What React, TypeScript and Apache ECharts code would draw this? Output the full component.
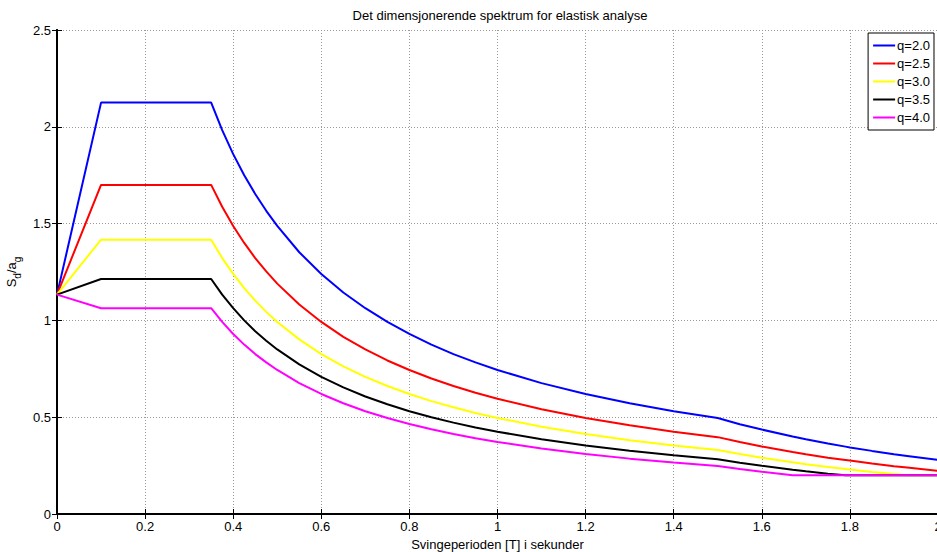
import React, { useEffect, useRef } from "react";
import * as echarts from "echarts";

const periods = [0, 0.1, 0.35, 0.375, 0.4, 0.425, 0.45, 0.475, 0.5, 0.55, 0.6, 0.65, 0.7, 0.75, 0.8, 0.85, 0.9, 0.95, 1.0, 1.1, 1.2, 1.3, 1.4, 1.5, 1.55, 1.6, 1.67, 1.7, 1.75, 1.79, 1.8, 1.85, 1.9, 1.93, 2.0];
const q20 = [1.133, 2.125, 2.125, 1.983, 1.859, 1.75, 1.653, 1.566, 1.488, 1.352, 1.24, 1.144, 1.063, 0.992, 0.93, 0.875, 0.826, 0.783, 0.744, 0.676, 0.62, 0.572, 0.531, 0.496, 0.464, 0.436, 0.4, 0.386, 0.364, 0.348, 0.344, 0.326, 0.309, 0.3, 0.279];
const q25 = [1.133, 1.7, 1.7, 1.587, 1.488, 1.4, 1.322, 1.253, 1.19, 1.082, 0.992, 0.915, 0.85, 0.793, 0.744, 0.7, 0.661, 0.626, 0.595, 0.541, 0.496, 0.458, 0.425, 0.397, 0.372, 0.349, 0.32, 0.309, 0.291, 0.279, 0.276, 0.261, 0.247, 0.24, 0.223];
const q30 = [1.133, 1.417, 1.417, 1.322, 1.24, 1.167, 1.102, 1.044, 0.992, 0.902, 0.826, 0.763, 0.708, 0.661, 0.62, 0.583, 0.551, 0.522, 0.496, 0.451, 0.413, 0.381, 0.354, 0.331, 0.31, 0.291, 0.267, 0.257, 0.243, 0.232, 0.23, 0.217, 0.206, 0.2, 0.2];
const q35 = [1.133, 1.214, 1.214, 1.133, 1.063, 1.0, 0.944, 0.895, 0.85, 0.773, 0.708, 0.654, 0.607, 0.567, 0.531, 0.5, 0.472, 0.447, 0.425, 0.386, 0.354, 0.327, 0.304, 0.283, 0.265, 0.249, 0.229, 0.221, 0.208, 0.2, 0.2, 0.2, 0.2, 0.2, 0.2];
const q40 = [1.133, 1.063, 1.063, 0.992, 0.93, 0.875, 0.826, 0.783, 0.744, 0.676, 0.62, 0.572, 0.531, 0.496, 0.465, 0.438, 0.413, 0.391, 0.372, 0.338, 0.31, 0.286, 0.266, 0.248, 0.232, 0.218, 0.2, 0.2, 0.2, 0.2, 0.2, 0.2, 0.2, 0.2, 0.2];

const seriesNames = ["q=2.0", "q=2.5", "q=3.0", "q=3.5", "q=4.0"];
const seriesValues = [q20, q25, q30, q35, q40];
const seriesColors = ["#0000ff", "#ff0000", "#ffff00", "#000000", "#ff00ff"];

const titleText = "Det dimensjonerende spektrum for elastisk analyse";
const xAxisTitle = "Svingeperioden [T] i sekunder";

const FONT = "'Liberation Sans', Arial, Helvetica, sans-serif";

export default function App() {
  const ref = useRef<HTMLDivElement>(null);
  useEffect(() => {
    if (!ref.current) return;
    const chart = echarts.init(ref.current, null, { renderer: "svg" });
    const axisLine = { show: true, lineStyle: { color: "#000", width: 2 } };
    const tick = { show: true, inside: true, length: 5, lineStyle: { color: "#000", width: 1 } };
    const gridLine = { show: true, lineStyle: { color: "#9a9a9a", width: 1, type: [1, 2] as any } };
    chart.setOption({
      animation: false,
      backgroundColor: "#fff",
      textStyle: { fontFamily: FONT },
      graphic: [
        {
          type: "text",
          x: 500,
          y: 15,
          style: {
            text: titleText,
            fontFamily: FONT,
            fontSize: 13,
            fill: "#000",
            textAlign: "center",
            textVerticalAlign: "middle",
          },
        },
      ],
      legend: {
        orient: "vertical",
        right: 3,
        top: 33,
        padding: [6, 4, 6, 5],
        itemGap: 5,
        itemWidth: 22,
        itemHeight: 2,
        icon: "rect",
        borderColor: "#000",
        borderWidth: 1,
        backgroundColor: "#fff",
        textStyle: { fontFamily: FONT, fontSize: 13, color: "#000", padding: [0, 0, 0, -3] },
        data: seriesNames,
      },
      grid: { left: 57, top: 30, width: 881, height: 484, containLabel: false, outerBoundsMode: "none" },
      xAxis: [
        {
          type: "value",
          min: 0,
          max: 2,
          interval: 0.2,
          name: xAxisTitle,
          nameLocation: "middle",
          nameGap: 21,
          nameTextStyle: { fontFamily: FONT, fontSize: 13, color: "#000" },
          axisLine,
          axisTick: tick,
          axisLabel: { color: "#000", fontSize: 13, fontFamily: FONT, margin: 6 },
          splitLine: gridLine,
        },
        {
          type: "value",
          position: "top",
          min: 0,
          max: 2,
          interval: 0.2,
          axisLine,
          axisTick: tick,
          axisLabel: { show: false },
          splitLine: { show: false },
        },
      ],
      yAxis: [
        {
          type: "value",
          min: 0,
          max: 2.5,
          interval: 0.5,
          name: "{b|S}{s|d}{b|/a}{s|g}",
          nameLocation: "middle",
          nameRotate: 90,
          nameGap: 31,
          nameTextStyle: {
            color: "#000",
            rich: {
              b: { fontFamily: FONT, fontSize: 13, color: "#000", lineHeight: 22, verticalAlign: "middle" },
              s: { fontFamily: FONT, fontSize: 10, color: "#000", lineHeight: 22, verticalAlign: "bottom" },
            },
          },
          axisLine,
          axisTick: tick,
          axisLabel: { color: "#000", fontSize: 13, fontFamily: FONT, margin: 6 },
          splitLine: gridLine,
        },
        {
          type: "value",
          position: "right",
          min: 0,
          max: 2.5,
          interval: 0.5,
          axisLine,
          axisTick: tick,
          axisLabel: { show: false },
          splitLine: { show: false },
        },
      ],
      series: seriesNames.map((name, k) => ({
        name,
        type: "line",
        xAxisIndex: 0,
        yAxisIndex: 0,
        showSymbol: false,
        symbol: "none",
        color: seriesColors[k],
        lineStyle: { width: 2, color: seriesColors[k] },
        data: periods.map((t, i) => [t, seriesValues[k][i]]),
      })),
    });
    return () => chart.dispose();
  }, []);
  return <div ref={ref} style={{ position: "fixed", left: 0, top: 0, width: 937, height: 552 }} />;
}
